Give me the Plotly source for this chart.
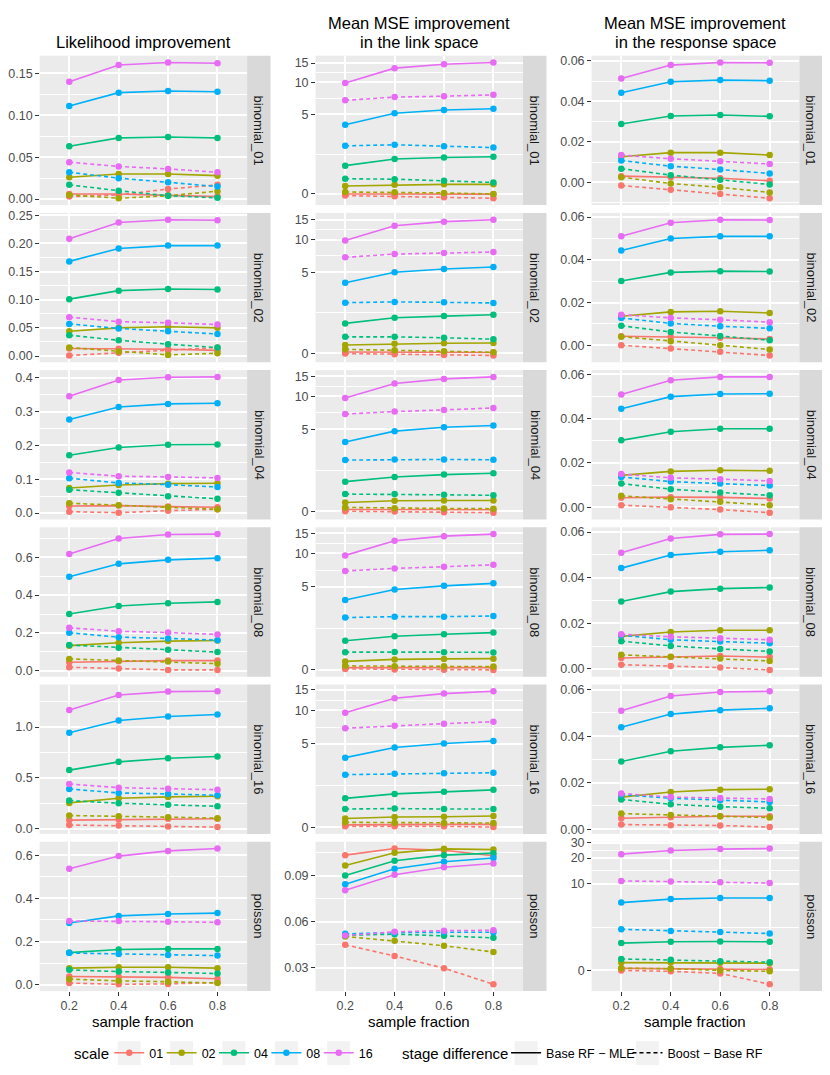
import numpy as np
import plotly.graph_objects as go

# x categories and series keys
fractions = [0.2, 0.4, 0.6, 0.8]
fraction_labels = ["0.2", "0.4", "0.6", "0.8"]
scales = ["01", "02", "04", "08", "16"]
scale_colors = ["#F8766D", "#A3A500", "#00BF7D", "#00B0F6", "#E76BF3"]
stage_names = ["Base RF \u2212 MLE", "Boost \u2212 Base RF"]
stage_dash = ["solid", "4px,3px"]
families = ["binomial_01", "binomial_02", "binomial_04", "binomial_08", "binomial_16", "poisson"]
col_titles = [["Likelihood improvement"],
              ["Mean MSE improvement", "in the link space"],
              ["Mean MSE improvement", "in the response space"]]

# rows of each array = scale 01, 02, 04, 08, 16 ; columns = sample fraction
# ---- likelihood improvement ----
lik_b01_base = [[0.006, 0.006, 0.0045, 0.003], [0.026, 0.030, 0.030, 0.028], [0.063, 0.073, 0.074, 0.073],
                [0.111, 0.127, 0.129, 0.128], [0.140, 0.160, 0.163, 0.162]]
lik_b01_boost = [[0.003, 0.005, 0.012, 0.017], [0.005, 0.001, 0.004, 0.0095], [0.017, 0.010, 0.004, 0.0015],
                 [0.032, 0.025, 0.020, 0.015], [0.044, 0.039, 0.036, 0.032]]
lik_b02_base = [[0.0135, 0.013, 0.012, 0.010], [0.044, 0.050, 0.052, 0.050], [0.101, 0.116, 0.119, 0.118],
                [0.168, 0.191, 0.196, 0.196], [0.208, 0.237, 0.242, 0.241]]
lik_b02_boost = [[0.001, 0.006, 0.010, 0.015], [0.015, 0.008, 0.002, 0.005], [0.037, 0.028, 0.021, 0.015],
                 [0.057, 0.049, 0.044, 0.039], [0.069, 0.061, 0.059, 0.056]]
lik_b04_base = [[0.021, 0.022, 0.019, 0.017], [0.074, 0.083, 0.087, 0.088], [0.171, 0.194, 0.202, 0.203],
                [0.277, 0.314, 0.323, 0.325], [0.346, 0.394, 0.402, 0.403]]
lik_b04_boost = [[0.004, 0.001, 0.007, 0.011], [0.029, 0.023, 0.017, 0.011], [0.069, 0.060, 0.050, 0.042],
                 [0.103, 0.089, 0.084, 0.077], [0.120, 0.109, 0.107, 0.104]]
lik_b08_base = [[0.045, 0.051, 0.054, 0.054], [0.133, 0.148, 0.157, 0.160], [0.300, 0.342, 0.357, 0.364],
                [0.497, 0.565, 0.586, 0.595], [0.617, 0.699, 0.720, 0.722]]
lik_b08_boost = [[0.019, 0.012, 0.005, 0.005], [0.063, 0.054, 0.049, 0.038], [0.136, 0.122, 0.112, 0.099],
                 [0.201, 0.178, 0.171, 0.162], [0.227, 0.209, 0.202, 0.192]]
lik_b16_base = [[0.085, 0.091, 0.098, 0.098], [0.254, 0.300, 0.313, 0.319], [0.577, 0.658, 0.694, 0.710],
                [0.945, 1.065, 1.104, 1.124], [1.169, 1.316, 1.349, 1.352]]
lik_b16_boost = [[0.036, 0.033, 0.023, 0.016], [0.130, 0.124, 0.114, 0.104], [0.277, 0.251, 0.235, 0.221],
                 [0.391, 0.352, 0.342, 0.329], [0.440, 0.404, 0.394, 0.384]]
lik_pois_base = [[0.038, 0.037, 0.034, 0.028], [0.077, 0.081, 0.081, 0.077], [0.149, 0.163, 0.166, 0.166],
                 [0.286, 0.319, 0.328, 0.332], [0.537, 0.596, 0.620, 0.631]]
lik_pois_boost = [[0.008, 0.002, 0.004, 0.010], [0.026, 0.018, 0.014, 0.008], [0.069, 0.061, 0.057, 0.052],
                  [0.147, 0.143, 0.138, 0.135], [0.295, 0.295, 0.292, 0.289]]

# ---- MSE improvement, link space ----
link_b01_base = [[0.0, -0.01, -0.01, -0.01], [0.33, 0.38, 0.40, 0.40], [1.24, 1.58, 1.66, 1.70],
                 [3.96, 5.14, 5.52, 5.68], [9.87, 13.5, 14.66, 15.2]]
link_b01_boost = [[-0.07, -0.10, -0.14, -0.18], [0.08, 0.07, 0.04, 0.0], [0.64, 0.62, 0.55, 0.48],
                  [2.34, 2.41, 2.32, 2.23], [6.82, 7.31, 7.46, 7.67]]
link_b02_base = [[0.05, 0.04, 0.03, 0.03], [0.34, 0.39, 0.41, 0.42], [1.29, 1.57, 1.66, 1.73],
                 [3.95, 5.00, 5.37, 5.60], [9.79, 13.3, 14.45, 15.05]]
link_b02_boost = [[-0.01, -0.04, -0.07, -0.09], [0.16, 0.12, 0.08, 0.04], [0.68, 0.68, 0.64, 0.58],
                  [2.44, 2.49, 2.46, 2.42], [6.89, 7.38, 7.54, 7.70]]
link_b04_base = [[0.08, 0.08, 0.08, 0.07], [0.36, 0.43, 0.44, 0.44], [1.27, 1.50, 1.62, 1.69],
                 [3.79, 4.82, 5.24, 5.45], [9.66, 12.99, 14.27, 14.86]]
link_b04_boost = [[0.01, 0.0, -0.03, -0.05], [0.16, 0.13, 0.12, 0.11], [0.71, 0.71, 0.68, 0.66],
                  [2.45, 2.49, 2.49, 2.47], [6.93, 7.31, 7.56, 7.87]]
link_b08_base = [[0.08, 0.08, 0.08, 0.08], [0.33, 0.41, 0.43, 0.44], [1.21, 1.43, 1.53, 1.61],
                 [3.74, 4.72, 5.10, 5.38], [9.59, 12.87, 14.14, 14.73]]
link_b08_boost = [[0.03, 0.01, 0.0, -0.01], [0.15, 0.13, 0.13, 0.12], [0.71, 0.72, 0.71, 0.70],
                  [2.46, 2.52, 2.52, 2.56], [6.97, 7.35, 7.61, 7.92]]
link_b16_base = [[0.10, 0.12, 0.12, 0.12], [0.35, 0.41, 0.42, 0.45], [1.21, 1.42, 1.52, 1.62],
                 [3.71, 4.63, 5.04, 5.33], [9.52, 12.72, 13.96, 14.61]]
link_b16_boost = [[0.04, 0.04, 0.04, 0.01], [0.20, 0.18, 0.17, 0.17], [0.74, 0.76, 0.74, 0.74],
                  [2.48, 2.54, 2.56, 2.60], [6.94, 7.32, 7.62, 7.93]]
link_pois_base = [[0.1033, 0.1076, 0.1065, 0.1029], [0.0966, 0.1048, 0.1074, 0.1069],
                  [0.0900, 0.0996, 0.1033, 0.1046], [0.0844, 0.0945, 0.0990, 0.1014],
                  [0.0804, 0.0906, 0.0954, 0.0979]]
link_pois_boost = [[0.0450, 0.0377, 0.0298, 0.0193], [0.0504, 0.0476, 0.0444, 0.0403],
                   [0.0512, 0.0519, 0.0508, 0.0495], [0.0521, 0.0529, 0.0531, 0.0531],
                   [0.0510, 0.0534, 0.0542, 0.0544]]

# ---- MSE improvement, response space ----
resp_b01_base = [[0.0031, 0.0026, 0.0021, 0.0008], [0.0127, 0.0147, 0.0147, 0.0135], [0.0288, 0.0328, 0.0333, 0.0326],
                 [0.0443, 0.0497, 0.0505, 0.0502], [0.0513, 0.0579, 0.0592, 0.0590]]
resp_b01_boost = [[-0.0015, -0.0036, -0.0057, -0.0078], [0.0026, -0.0005, -0.0024, -0.0049],
                  [0.0068, 0.0036, 0.0013, -0.0010], [0.0108, 0.0080, 0.0064, 0.0044], [0.0135, 0.0117, 0.0104, 0.0091]]
resp_b02_base = [[0.0042, 0.0040, 0.0035, 0.0029], [0.0136, 0.0156, 0.0159, 0.0151], [0.0301, 0.0341, 0.0347, 0.0345],
                 [0.0444, 0.0500, 0.0510, 0.0510], [0.0510, 0.0574, 0.0588, 0.0586]]
resp_b02_boost = [[0.0000, -0.0015, -0.0031, -0.0048], [0.0040, 0.0019, 0.0000, -0.0020],
                  [0.0091, 0.0062, 0.0043, 0.0023], [0.0128, 0.0102, 0.0089, 0.0079], [0.0143, 0.0128, 0.0119, 0.0108]]
resp_b04_base = [[0.0043, 0.0046, 0.0045, 0.0040], [0.0144, 0.0162, 0.0167, 0.0165], [0.0302, 0.0341, 0.0354, 0.0354],
                 [0.0444, 0.0499, 0.0511, 0.0512], [0.0509, 0.0573, 0.0588, 0.0588]]
resp_b04_boost = [[0.0010, 0.0000, -0.0010, -0.0024], [0.0052, 0.0037, 0.0025, 0.0010],
                  [0.0107, 0.0082, 0.0067, 0.0054], [0.0137, 0.0116, 0.0107, 0.0098], [0.0150, 0.0133, 0.0127, 0.0119]]
resp_b08_base = [[0.0048, 0.0052, 0.0057, 0.0052], [0.0143, 0.0162, 0.0170, 0.0170], [0.0296, 0.0339, 0.0352, 0.0357],
                 [0.0442, 0.0499, 0.0514, 0.0520], [0.0509, 0.0572, 0.0590, 0.0591]]
resp_b08_boost = [[0.0019, 0.0013, 0.0006, -0.0004], [0.0062, 0.0054, 0.0046, 0.0035],
                  [0.0122, 0.0101, 0.0088, 0.0077], [0.0148, 0.0128, 0.0120, 0.0113], [0.0152, 0.0141, 0.0135, 0.0128]]
resp_b16_base = [[0.0047, 0.0051, 0.0056, 0.0056], [0.0138, 0.0160, 0.0170, 0.0172], [0.0291, 0.0335, 0.0352, 0.0361],
                 [0.0438, 0.0495, 0.0512, 0.0520], [0.0509, 0.0573, 0.0590, 0.0593]]
resp_b16_boost = [[0.0020, 0.0017, 0.0016, 0.0009], [0.0067, 0.0061, 0.0056, 0.0050],
                  [0.0128, 0.0107, 0.0097, 0.0090], [0.0148, 0.0133, 0.0125, 0.0117], [0.0154, 0.0138, 0.0134, 0.0130]]
resp_pois_base = [[0.11, 0.09, 0.07, 0.05], [0.42, 0.42, 0.41, 0.39], [1.59, 1.68, 1.70, 1.68],
                  [5.94, 6.55, 6.75, 6.75], [22.2, 24.5, 25.4, 25.8]]
resp_pois_boost = [[0.0, -0.05, -0.16, -0.76], [0.12, 0.09, 0.0, -0.05], [0.62, 0.57, 0.50, 0.44],
                   [2.66, 2.52, 2.42, 2.30], [10.8, 10.6, 10.4, 10.2]]

# y breaks per row for each column (original units) and their labels
lik_ticks = [[0, 0.05, 0.10, 0.15], [0, 0.05, 0.10, 0.15, 0.20, 0.25], [0, 0.1, 0.2, 0.3, 0.4],
             [0, 0.2, 0.4, 0.6], [0, 0.5, 1.0], [0, 0.2, 0.4, 0.6]]
lik_labels = [["0.00", "0.05", "0.10", "0.15"], ["0.00", "0.05", "0.10", "0.15", "0.20", "0.25"],
              ["0.0", "0.1", "0.2", "0.3", "0.4"], ["0.0", "0.2", "0.4", "0.6"], ["0.0", "0.5", "1.0"],
              ["0.0", "0.2", "0.4", "0.6"]]
link_ticks = [[0, 5, 10, 15]] * 5 + [[0.03, 0.06, 0.09]]
link_labels = [["0", "5", "10", "15"]] * 5 + [["0.03", "0.06", "0.09"]]
resp_ticks = [[0, 0.02, 0.04, 0.06]] * 5 + [[0, 10, 20, 30]]
resp_labels = [["0.00", "0.02", "0.04", "0.06"]] * 5 + [["0", "10", "20", "30"]]

panels = [
    [(lik_b01_base, lik_b01_boost), (link_b01_base, link_b01_boost), (resp_b01_base, resp_b01_boost)],
    [(lik_b02_base, lik_b02_boost), (link_b02_base, link_b02_boost), (resp_b02_base, resp_b02_boost)],
    [(lik_b04_base, lik_b04_boost), (link_b04_base, link_b04_boost), (resp_b04_base, resp_b04_boost)],
    [(lik_b08_base, lik_b08_boost), (link_b08_base, link_b08_boost), (resp_b08_base, resp_b08_boost)],
    [(lik_b16_base, lik_b16_boost), (link_b16_base, link_b16_boost), (resp_b16_base, resp_b16_boost)],
    [(lik_pois_base, lik_pois_boost), (link_pois_base, link_pois_boost), (resp_pois_base, resp_pois_boost)],
]
ticks = [(lik_ticks, lik_labels), (link_ticks, link_labels), (resp_ticks, resp_labels)]


def identity(v):
    return np.asarray(v, dtype=float)


def pseudo_log(v):
    # pseudo-log (sigma = 1) as used on the MSE columns
    return np.arcsinh(np.asarray(v, dtype=float) / 2)


col_trans = [identity, pseudo_log, pseudo_log]


def minor_breaks(major, lo, hi):
    b = list(major)
    step = b[1] - b[0]
    if lo < b[0]:
        b = [b[0] - step] + b
    if hi > b[-1]:
        b = b + [b[-1] + step]
    mids = [(a + c) / 2 for a, c in zip(b[:-1], b[1:])]
    return [m for m in mids if lo <= m <= hi]


# page geometry, in px of the 830x1075 window; the page body adds an 8px margin
OFF = 8
W, H = 830 - OFF, 1075 - OFF
FONT = "Liberation Sans"
TITLE_SIZE = 16.5
panel_x = [(37.7, 245.7), (314.3, 522.3), (591.0, 799.3)]
strip_w = 23.5
top0, pitch, ph = 51.0, 158.4, 150.5


def fx(v):
    return (v - OFF) / W


def fy(v):
    return 1 - (v - OFF) / H


fig = go.Figure()
layout = {}
shapes = []
annotations = []

for r, fam in enumerate(families):
    top = top0 + r * pitch
    bot = top + ph
    for c in range(3):
        n = r * 3 + c + 1
        xa = "x" if n == 1 else f"x{n}"
        ya = "y" if n == 1 else f"y{n}"
        tf = col_trans[c]
        base, boost = panels[r][c]
        allv = []
        for k, arr in enumerate([base, boost]):
            for i, s in enumerate(scales):
                yv = tf(arr[i])
                allv.extend(yv)
                fig.add_trace(go.Scatter(
                    x=fractions, y=yv, mode="lines+markers", xaxis=xa, yaxis=ya,
                    line=dict(color=scale_colors[i], width=1.6, dash=stage_dash[k]),
                    marker=dict(color=scale_colors[i], size=6.5),
                    showlegend=False, hoverinfo="skip"))
        lo, hi = min(allv), max(allv)
        span = hi - lo
        lo, hi = lo - 0.05 * span, hi + 0.05 * span
        tv = list(tf(ticks[c][0][r]))
        x0, x1 = panel_x[c]
        layout["xaxis" if n == 1 else f"xaxis{n}"] = dict(
            domain=[fx(x0), fx(x1)], anchor=ya, range=[0.08, 0.92],
            tickvals=fractions, ticktext=fraction_labels, showticklabels=(r == 5),
            ticks="outside" if r == 5 else "", ticklen=3.5, tickcolor="#333333", tickwidth=1,
            ticklabelstandoff=-1,
            tickfont=dict(family=FONT, size=12.5, color="#4D4D4D"),
            showgrid=True, gridcolor="white", gridwidth=1.6, zeroline=False, showline=False)
        layout["yaxis" if n == 1 else f"yaxis{n}"] = dict(
            domain=[fy(bot), fy(top)], anchor=xa, range=[lo, hi],
            tickvals=tv, ticktext=ticks[c][1][r],
            ticks="outside", ticklen=3.5, tickcolor="#333333", tickwidth=1,
            tickfont=dict(family=FONT, size=12.5, color="#4D4D4D"),
            showgrid=True, gridcolor="white", gridwidth=1.6, zeroline=False, showline=False,
            minor=dict(tickvals=minor_breaks(tv, lo, hi), showgrid=True, gridcolor="white",
                       gridwidth=0.8, ticks=""))
        # facet strip on the right
        shapes.append(dict(type="rect", xref="paper", yref="paper", x0=fx(x1), x1=fx(x1 + strip_w),
                           y0=fy(bot), y1=fy(top), fillcolor="#D9D9D9", line=dict(width=0), layer="below"))
        annotations.append(dict(text=fam, xref="paper", yref="paper", x=fx(x1 + strip_w / 2),
                                y=fy((top + bot) / 2), showarrow=False, textangle=90,
                                xanchor="center", yanchor="middle",
                                font=dict(family=FONT, size=13, color="#1A1A1A")))

# column titles (two stacked lines where needed) and x-axis titles
for c in range(3):
    x0, x1 = panel_x[c]
    cx = fx((x0 + x1) / 2)
    lines = col_titles[c]
    if len(lines) == 2:
        annotations.append(dict(text=lines[0], xref="paper", yref="paper", x=cx, y=1.0,
                                showarrow=False, xanchor="center", yanchor="top", borderpad=0,
                                font=dict(family=FONT, size=TITLE_SIZE, color="black")))
    annotations.append(dict(text=lines[-1], xref="paper", yref="paper", x=cx, y=fy(27),
                            showarrow=False, xanchor="center", yanchor="top", borderpad=0,
                            font=dict(family=FONT, size=TITLE_SIZE, color="black")))
    annotations.append(dict(text="sample fraction", xref="paper", yref="paper", x=cx,
                            y=fy(1024), showarrow=False, xanchor="center", yanchor="middle",
                            font=dict(family=FONT, size=15, color="black")))

# legend titles
for txt, cx in [("scale", 89.5), ("stage difference", 453.7)]:
    annotations.append(dict(text=txt, xref="paper", yref="paper", x=fx(cx), y=fy(1056),
                            showarrow=False, xanchor="center", yanchor="middle",
                            font=dict(family=FONT, size=15, color="black")))

# legend keys: one small legend per key so each sits on its grey key box
key_centers = [127.5, 180.0, 232.5, 285.0, 337.5, 525.3, 647.0]
for cx in key_centers:
    shapes.append(dict(type="rect", xref="paper", yref="paper", x0=fx(cx - 11.5), x1=fx(cx + 11.5),
                       y0=fy(1068), y1=fy(1044), fillcolor="#F2F2F2", line=dict(width=0), layer="below"))

legend_defs = {}
for j, cx in enumerate(key_centers):
    name = "legend" if j == 0 else f"legend{j + 1}"
    legend_defs[name] = dict(orientation="h", x=fx(cx - 20), y=fy(1056), xanchor="left", yanchor="middle",
                             font=dict(family=FONT, size=12.5, color="black"), itemwidth=30,
                             bgcolor="rgba(0,0,0,0)", borderwidth=0)

for i, s in enumerate(scales):
    fig.add_trace(go.Scatter(x=[None], y=[None], mode="lines+markers", name=s,
                             legend="legend" if i == 0 else f"legend{i + 1}",
                             line=dict(color=scale_colors[i], width=1.6),
                             marker=dict(color=scale_colors[i], size=6.5)))
for k, s in enumerate(stage_names):
    fig.add_trace(go.Scatter(x=[None], y=[None], mode="lines", name=s, legend=f"legend{6 + k}",
                             line=dict(color="black", width=1.6, dash=stage_dash[k])))

fig.update_layout(
    width=W, height=H, autosize=False,
    margin=dict(l=0, r=0, t=0, b=0),
    paper_bgcolor="white", plot_bgcolor="#EBEBEB",
    font=dict(family=FONT, color="black"),
    shapes=shapes, annotations=annotations,
    **legend_defs,
    **layout,
)

fig.write_html("out.html")
